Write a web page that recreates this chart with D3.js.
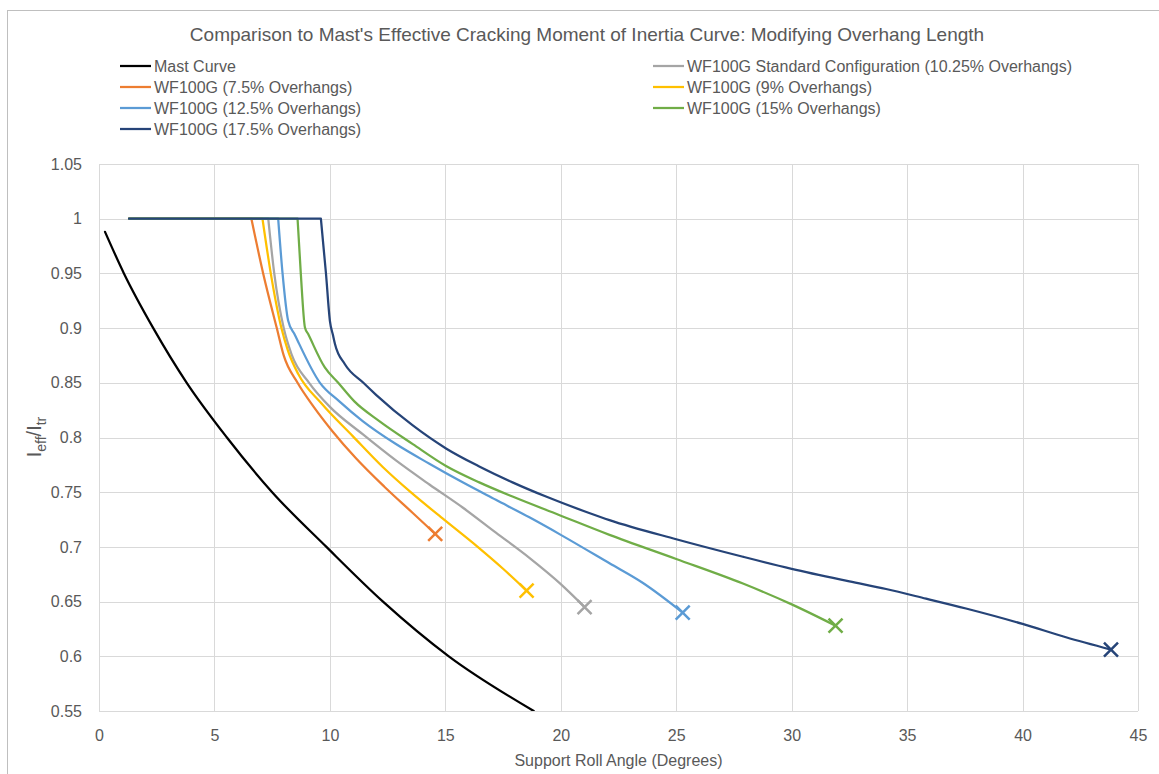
<!DOCTYPE html>
<html>
<head>
<meta charset="utf-8">
<script src="https://cdn.jsdelivr.net/npm/d3@7"></script>
<style>
  html, body { margin: 0; padding: 0; background: #fff; }
  svg { display: block; font-family: "Liberation Sans", Arial, sans-serif; }
</style>
</head>
<body>
<svg id="chart" width="1159" height="774"></svg>
<script>
// ---- data: [support roll angle (deg), Ieff/Itr] ----
const seriesNames = [
  "Mast Curve",
  "WF100G Standard Configuration (10.25% Overhangs)",
  "WF100G (7.5% Overhangs)",
  "WF100G (9% Overhangs)",
  "WF100G (12.5% Overhangs)",
  "WF100G (15% Overhangs)",
  "WF100G (17.5% Overhangs)"
];

const mastCurve = [
  [0.26, 0.988], [1.08, 0.95], [2.35, 0.9], [3.8, 0.85], [5.54, 0.8],
  [7.5, 0.75], [9.85, 0.7], [12.3, 0.65], [15.15, 0.6], [18.83, 0.55]
];

const standard1025 = [
  [1.3, 1], [7.33, 1], [7.59, 0.95], [8.0, 0.9], [8.34, 0.876], [9.1, 0.85],
  [10.0, 0.828], [11.42, 0.803], [12.86, 0.779], [14.31, 0.757], [15.75, 0.736],
  [17.19, 0.713], [18.64, 0.69], [20.0, 0.666], [21.03, 0.645]
];

const overhang75 = [
  [1.3, 1], [6.6, 1], [7.11, 0.95], [7.7, 0.9], [8.0, 0.875], [8.6, 0.85],
  [9.3, 0.828], [10.1, 0.806], [11.13, 0.781], [12.36, 0.755], [13.59, 0.731],
  [14.56, 0.712]
];

const overhang9 = [
  [1.3, 1], [7.08, 1], [7.44, 0.95], [7.9, 0.9], [8.19, 0.879], [8.63, 0.858],
  [9.64, 0.831], [11.0, 0.801], [12.29, 0.773], [13.5, 0.75], [14.88, 0.726],
  [16.4, 0.7], [17.5, 0.68], [18.52, 0.66]
];

const overhang125 = [
  [1.3, 1], [7.76, 1], [7.95, 0.95], [8.19, 0.907], [8.48, 0.894], [9.57, 0.85],
  [10.41, 0.833], [11.42, 0.815], [12.86, 0.794], [14.31, 0.776], [15.75, 0.759],
  [17.19, 0.743], [18.64, 0.727], [20.0, 0.711], [22.11, 0.685], [23.56, 0.667],
  [25.28, 0.64]
];

const overhang15 = [
  [1.3, 1], [8.6, 1], [8.74, 0.95], [8.92, 0.9005], [9.06, 0.8945], [9.78, 0.864],
  [10.36, 0.85], [11.06, 0.833], [12.14, 0.815], [13.59, 0.794], [15.03, 0.774],
  [16.47, 0.759], [17.91, 0.746], [19.95, 0.729], [22.11, 0.711], [25.0, 0.689],
  [27.89, 0.6665], [30.05, 0.647], [31.9, 0.628]
];

const overhang175 = [
  [1.3, 1], [9.61, 1], [9.83, 0.95], [10.0, 0.9067], [10.14, 0.893], [10.22, 0.8855],
  [10.65, 0.867], [11.45, 0.85], [12.0, 0.839], [13.59, 0.811], [15.03, 0.79],
  [16.47, 0.7735], [17.91, 0.759], [19.36, 0.746], [21.23, 0.731], [22.11, 0.7245],
  [25.0, 0.707], [27.89, 0.691], [30.0, 0.68], [32.5, 0.6685], [34.09, 0.6615],
  [35.82, 0.6527], [37.55, 0.6437], [40.0, 0.6296], [41.88, 0.6174], [43.83, 0.6061]
];

const xTicks = [0, 5, 10, 15, 20, 25, 30, 35, 40, 45];
const yTicks = [0.55, 0.6, 0.65, 0.7, 0.75, 0.8, 0.85, 0.9, 0.95, 1, 1.05];

// ---- styling ----
const seriesData = [mastCurve, standard1025, overhang75, overhang9, overhang125, overhang15, overhang175];
const seriesColors = ["#000000", "#A5A5A5", "#ED7D31", "#FFC000", "#5B9BD5", "#70AD47", "#264478"];
const textColor = "#595959";
const gridColor = "#D9D9D9";

const svg = d3.select("#chart");
const margin = { left: 99, right: 1138, top: 164, bottom: 711 };

const x = d3.scaleLinear().domain([0, 45]).range([margin.left, margin.right]);
const y = d3.scaleLinear().domain([0.55, 1.05]).range([margin.bottom, margin.top]);

// chart frame
svg.append("rect").attr("x", 0).attr("y", 0).attr("width", 1159).attr("height", 774).attr("fill", "#fff");
svg.append("rect")
  .attr("x", 7.5).attr("y", 10.5).attr("width", 1200).attr("height", 800)
  .attr("fill", "none").attr("stroke", "#BFBFBF").attr("stroke-width", 1);

// title
svg.append("text")
  .attr("x", 587).attr("y", 41)
  .attr("text-anchor", "middle")
  .attr("fill", textColor)
  .style("font-size", "19px")
  .text("Comparison to Mast's Effective Cracking Moment of Inertia Curve: Modifying Overhang Length");

// gridlines
const grid = svg.append("g");
grid.selectAll("line.h").data(yTicks).join("line")
  .attr("x1", margin.left).attr("x2", margin.right)
  .attr("y1", d => Math.round(y(d)) + 0.5).attr("y2", d => Math.round(y(d)) + 0.5)
  .attr("stroke", gridColor).attr("stroke-width", 1);
grid.selectAll("line.v").data(xTicks).join("line")
  .attr("y1", margin.top).attr("y2", margin.bottom)
  .attr("x1", d => Math.round(x(d)) + 0.5).attr("x2", d => Math.round(x(d)) + 0.5)
  .attr("stroke", gridColor).attr("stroke-width", 1);

// axes (labels only, Excel-style)
const xAxis = d3.axisBottom(x).tickValues(xTicks).tickSize(0).tickPadding(19).tickFormat(d => d);
svg.append("g").attr("transform", `translate(0,${margin.bottom})`).call(xAxis)
  .call(g => g.select(".domain").remove())
  .call(g => g.selectAll("text").attr("fill", textColor).style("font-size", "16px").style("font-family", "'Liberation Sans', Arial, sans-serif"));

const yAxis = d3.axisLeft(y).tickValues(yTicks).tickSize(0).tickPadding(17).tickFormat(d => String(+d.toFixed(2)));
svg.append("g").attr("transform", `translate(${margin.left},0)`).call(yAxis)
  .call(g => g.select(".domain").remove())
  .call(g => g.selectAll("text").attr("fill", textColor).style("font-size", "16px").style("font-family", "'Liberation Sans', Arial, sans-serif"));

// axis titles
svg.append("text")
  .attr("x", (margin.left + margin.right) / 2).attr("y", 766)
  .attr("text-anchor", "middle").attr("fill", textColor)
  .style("font-size", "16px")
  .text("Support Roll Angle (Degrees)");

const yTitle = svg.append("text")
  .attr("transform", "translate(41,437) rotate(-90)")
  .attr("text-anchor", "middle").attr("fill", textColor)
  .style("font-size", "20px");
yTitle.append("tspan").text("I");
yTitle.append("tspan").attr("dy", 5).style("font-size", "14px").text("eff");
yTitle.append("tspan").attr("dy", -5).text("/I");
yTitle.append("tspan").attr("dy", 5).style("font-size", "14px").text("tr");

// lines
svg.append("clipPath").attr("id", "plotClip").append("rect")
  .attr("x", margin.left).attr("y", margin.top - 2)
  .attr("width", margin.right - margin.left).attr("height", margin.bottom - margin.top + 2);

const plot = svg.append("g").attr("clip-path", "url(#plotClip)");
const smoothLine = d3.line().x(d => x(d[0])).y(d => y(d[1])).curve(d3.curveMonotoneX);
const straightLine = d3.line().x(d => x(d[0])).y(d => y(d[1]));

seriesData.forEach((data, i) => {
  // WF100G series: straight plateau at 1.0, then a smooth decay from the break point
  const d = i === 0
    ? smoothLine(data)
    : straightLine(data.slice(0, 2)) + smoothLine(data.slice(1));
  plot.append("path")
    .attr("d", d)
    .attr("fill", "none")
    .attr("stroke", seriesColors[i])
    .attr("stroke-width", 2.25)
    .attr("stroke-linejoin", "round")
    .attr("stroke-linecap", "round");
});

// end-point "X" markers for the WF100G series
const markers = svg.append("g");
seriesData.forEach((data, i) => {
  if (i === 0) return;
  const p = data[data.length - 1];
  const cx = x(p[0]), cy = y(p[1]), r = 7;
  markers.append("path")
    .attr("d", `M${cx - r},${cy - r}L${cx + r},${cy + r}M${cx + r},${cy - r}L${cx - r},${cy + r}`)
    .attr("stroke", seriesColors[i]).attr("stroke-width", 2.5).attr("fill", "none");
});

// legend (two columns, filled row by row)
const legend = svg.append("g");
const colX = [120, 653];
const rowY = [66, 87, 108, 129];
seriesNames.forEach((name, i) => {
  const lx = colX[i % 2], ly = rowY[Math.floor(i / 2)];
  legend.append("line")
    .attr("x1", lx).attr("x2", lx + 31).attr("y1", ly).attr("y2", ly)
    .attr("stroke", seriesColors[i]).attr("stroke-width", 2.25);
  legend.append("text")
    .attr("x", lx + 34).attr("y", ly).attr("dy", "0.35em")
    .attr("fill", textColor).style("font-size", "16px")
    .text(name);
});
</script>
</body>
</html>
